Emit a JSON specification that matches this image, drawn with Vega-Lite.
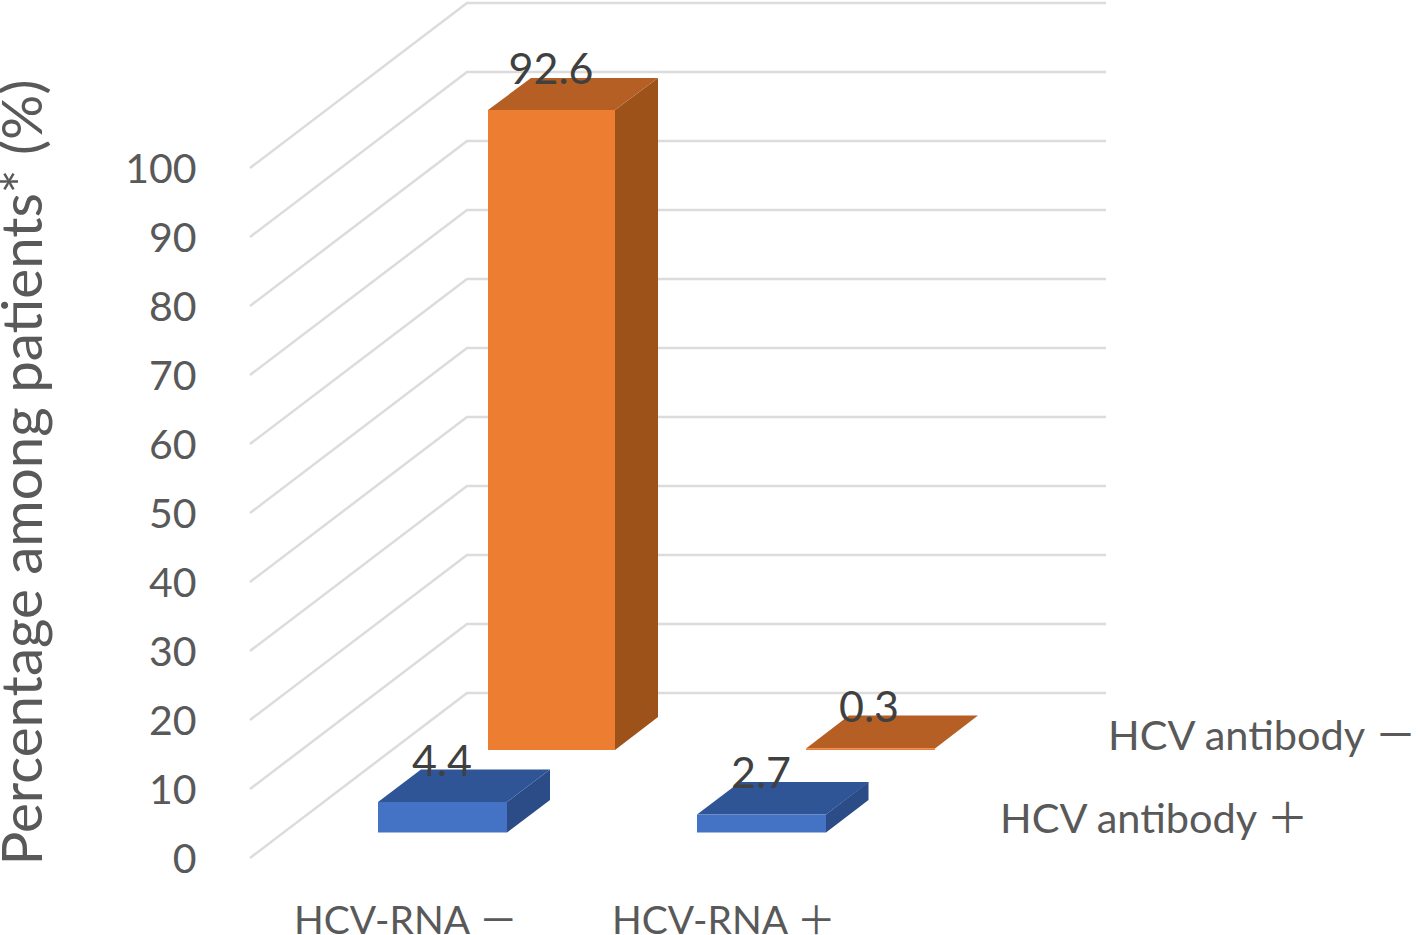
{
"$schema":"https://vega.github.io/schema/vega-lite/v6.json",
"width":1418,"height":935,"padding":0,"autosize":{"type":"none"},"background":"white",
"config":{"view":{"stroke":null},"font":"Lato"},
"datasets":{
"grid":[
{"level":0,"px":250,"u":0},{"level":0,"px":467,"u":23.913},{"level":0,"px":1106,"u":23.913},
{"level":10,"px":250,"u":10},{"level":10,"px":467,"u":33.913},{"level":10,"px":1106,"u":33.913},
{"level":20,"px":250,"u":20},{"level":20,"px":467,"u":43.913},{"level":20,"px":1106,"u":43.913},
{"level":30,"px":250,"u":30},{"level":30,"px":467,"u":53.913},{"level":30,"px":1106,"u":53.913},
{"level":40,"px":250,"u":40},{"level":40,"px":467,"u":63.913},{"level":40,"px":1106,"u":63.913},
{"level":50,"px":250,"u":50},{"level":50,"px":467,"u":73.913},{"level":50,"px":1106,"u":73.913},
{"level":60,"px":250,"u":60},{"level":60,"px":467,"u":83.913},{"level":60,"px":1106,"u":83.913},
{"level":70,"px":250,"u":70},{"level":70,"px":467,"u":93.913},{"level":70,"px":1106,"u":93.913},
{"level":80,"px":250,"u":80},{"level":80,"px":467,"u":103.913},{"level":80,"px":1106,"u":103.913},
{"level":90,"px":250,"u":90},{"level":90,"px":467,"u":113.913},{"level":90,"px":1106,"u":113.913},
{"level":100,"px":250,"u":100},{"level":100,"px":467,"u":123.913},{"level":100,"px":1106,"u":123.913}
],
"front":[
{"bar":"RNA- Ab-","series":"Ab-","a":488,"b":615,"top":108.406,"base":15.652},
{"bar":"RNA+ Ab-","series":"Ab-","a":806,"b":935,"top":15.87,"base":15.652},
{"bar":"RNA- Ab+","series":"Ab+","a":378,"b":507,"top":8.116,"base":3.696},
{"bar":"RNA+ Ab+","series":"Ab+","a":697,"b":826,"top":6.304,"base":3.696}
],
"side":[
{"bar":"RNA- Ab-","series":"Ab-","a":615,"top":108.406,"base":15.652},
{"bar":"RNA- Ab-","series":"Ab-","a":658,"top":113.043,"base":20.435},
{"bar":"RNA- Ab+","series":"Ab+","a":507,"top":8.116,"base":3.696},
{"bar":"RNA- Ab+","series":"Ab+","a":550,"top":12.826,"base":8.406},
{"bar":"RNA+ Ab+","series":"Ab+","a":826,"top":6.304,"base":3.696},
{"bar":"RNA+ Ab+","series":"Ab+","a":868.5,"top":11.014,"base":8.406}
],
"topface":[
{"bar":"RNA- Ab-","series":"Ab-","a":488,"b":615,"u":108.406},
{"bar":"RNA- Ab-","series":"Ab-","a":531,"b":658,"u":113.043},
{"bar":"RNA+ Ab-","series":"Ab-","a":806,"b":935,"u":15.87},
{"bar":"RNA+ Ab-","series":"Ab-","a":849,"b":978,"u":20.652},
{"bar":"RNA- Ab+","series":"Ab+","a":378,"b":507,"u":8.116},
{"bar":"RNA- Ab+","series":"Ab+","a":421,"b":550,"u":12.826},
{"bar":"RNA+ Ab+","series":"Ab+","a":697,"b":826,"u":6.304},
{"bar":"RNA+ Ab+","series":"Ab+","a":740,"b":869,"u":11.014}
],
"values":[
{"value":92.6,"a":551,"u":112.15},
{"value":4.4,"a":442,"u":11.95},
{"value":2.7,"a":761,"u":10.2},
{"value":0.3,"a":869,"u":19.75}
],
"rnacats":[
{"label":"HCV-RNA －","a":294,"u":-11.0},
{"label":"HCV-RNA ＋","a":612,"u":-11.0}
],
"abcats":[
{"label":"HCV antibody －","a":1108,"u":15.652},
{"label":"HCV antibody ＋","a":1000,"u":3.623}
]
},
"encoding":{
"x":{"field":"a","type":"quantitative","scale":{"domain":[0,1418],"nice":false,"zero":false},"axis":null}
},
"layer":[
{"data":{"name":"grid"},"mark":{"type":"line","color":"#DCDCDC","strokeWidth":2.5,"interpolate":"linear"},
"encoding":{"x":{"field":"px","type":"quantitative","axis":null},
"y":{"field":"u","type":"quantitative","scale":{"domain":[-11.159,124.348],"nice":false,"zero":false},
"axis":{"orient":"left","offset":-196,"values":[0,10,20,30,40,50,60,70,80,90,100],"domain":false,"ticks":false,"grid":false,"labelPadding":0,"labelOffset":2,"labelFont":"Lato","labelFontSize":41,"labelColor":"#595959","title":"Percentage among patients* (%)","titleFont":"Lato","titleFontSize":56.5,"titleFontWeight":"normal","titleColor":"#595959","titleX":-155,"titleY":472,"titleAlign":"center","titleBaseline":"alphabetic","titleAngle":-90}},
"detail":{"field":"level"}}},
{"data":{"name":"side"},"mark":{"type":"area","orient":"vertical"},
"encoding":{"y":{"field":"top","type":"quantitative"},"y2":{"field":"base"},"detail":{"field":"bar"},
"color":{"field":"series","type":"nominal","scale":{"domain":["Ab-","Ab+"],"range":["#9C5218","#2B4C86"]},"legend":null}}},
{"data":{"name":"topface"},"mark":{"type":"area","orient":"horizontal"},
"encoding":{"y":{"field":"u","type":"quantitative"},"x2":{"field":"b"},"detail":{"field":"bar"},
"fill":{"field":"series","type":"nominal","scale":{"domain":["Ab-","Ab+"],"range":["#B55F24","#2F5597"]},"legend":null}}},
{"data":{"name":"front"},"mark":{"type":"rect"},
"encoding":{"x2":{"field":"b"},"y":{"field":"top","type":"quantitative"},"y2":{"field":"base"},
"stroke":{"value":null},
"fill":{"field":"series","type":"nominal","scale":{"domain":["Ab-","Ab+"],"range":["#ED7D31","#4472C4"]},"legend":null}}},
{"data":{"name":"values"},"mark":{"type":"text","font":"Lato","fontSize":43,"align":"center","baseline":"alphabetic","color":"#404040"},
"encoding":{"y":{"field":"u","type":"quantitative"},"text":{"field":"value","type":"quantitative","format":".1f"}}},
{"data":{"name":"rnacats"},"mark":{"type":"text","font":"Lato, Noto Sans CJK JP","fontSize":39,"align":"left","baseline":"alphabetic","color":"#595959"},
"encoding":{"y":{"field":"u","type":"quantitative"},"text":{"field":"label","type":"nominal"}}},
{"data":{"name":"abcats"},"mark":{"type":"text","font":"Lato, Noto Sans CJK JP","fontSize":41.5,"align":"left","baseline":"alphabetic","color":"#595959"},
"encoding":{"y":{"field":"u","type":"quantitative"},"text":{"field":"label","type":"nominal"}}}
],
"resolve":{"scale":{"fill":"independent","color":"independent"}}
}
